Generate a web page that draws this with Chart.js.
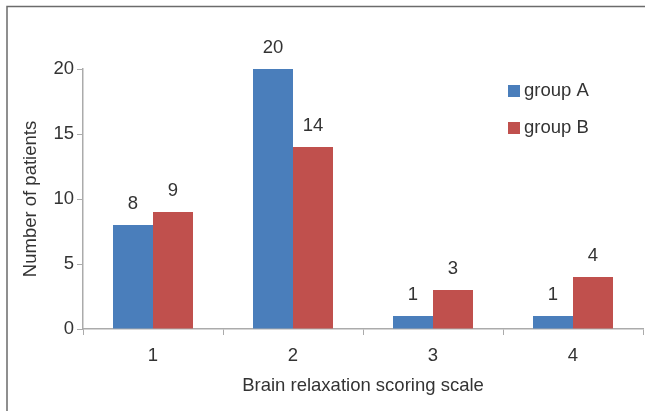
<!DOCTYPE html>
<html>
<head>
<meta charset="utf-8">
<script src="https://cdn.jsdelivr.net/npm/chart.js@4"></script>
<style>
  html, body { margin: 0; padding: 0; background: #fff; }
  #wrap { width: 645px; height: 411px; position: relative; }
</style>
</head>
<body>
<div id="wrap"><canvas id="c" width="645" height="411"></canvas></div>
<script>
const categories = ['1', '2', '3', '4'];
const seriesNames = ['group A', 'group B'];
const groupA = [8, 20, 1, 1];
const groupB = [9, 14, 3, 4];
const yTicks = [0, 5, 10, 15, 20];
const colors = ['#4a7ebb', '#c0504d'];

const FONT = "'Liberation Sans', Arial, sans-serif";
const FS = 18.5;
const TEXT = '#333333';
const AXIS = '#ababab';

const frame = {
  id: 'frame',
  beforeDraw(chart) {
    const ctx = chart.ctx;
    ctx.save();
    ctx.fillStyle = '#fff';
    ctx.fillRect(0, 0, chart.width, chart.height);
    ctx.strokeStyle = '#6b6b6b';
    ctx.lineWidth = 1.5;
    ctx.beginPath();
    ctx.moveTo(7, 420);
    ctx.lineTo(7, 6.5);
    ctx.lineTo(660, 6.5);
    ctx.stroke();
    ctx.restore();
  }
};

const valueLabels = {
  id: 'valueLabels',
  afterDatasetsDraw(chart) {
    const ctx = chart.ctx;
    ctx.save();
    ctx.font = FS + 'px ' + FONT;
    ctx.fillStyle = TEXT;
    ctx.textAlign = 'center';
    ctx.textBaseline = 'middle';
    chart.data.datasets.forEach((ds, i) => {
      chart.getDatasetMeta(i).data.forEach((bar, j) => {
        ctx.fillText(String(ds.data[j]), bar.x, bar.y - 21);
      });
    });
    ctx.restore();
  }
};

const insideLegend = {
  id: 'insideLegend',
  afterDraw(chart) {
    const ctx = chart.ctx;
    ctx.save();
    ctx.font = FS + 'px ' + FONT;
    ctx.textBaseline = 'middle';
    ctx.textAlign = 'left';
    chart.data.datasets.forEach((ds, i) => {
      const cy = 91 + i * 37;
      ctx.fillStyle = ds.backgroundColor;
      ctx.fillRect(508, cy - 6, 12, 12);
      ctx.fillStyle = TEXT;
      ctx.fillText(ds.label, 524, cy);
    });
    ctx.restore();
  }
};

new Chart(document.getElementById('c'), {
  type: 'bar',
  data: {
    labels: categories,
    datasets: [
      { label: seriesNames[0], data: groupA, backgroundColor: colors[0] },
      { label: seriesNames[1], data: groupB, backgroundColor: colors[1] }
    ]
  },
  options: {
    responsive: false,
    animation: false,
    devicePixelRatio: 1,
    layout: { padding: { top: 69, right: 2, left: 0, bottom: 0 } },
    datasets: { bar: { categoryPercentage: 80 / 140, barPercentage: 1.0 } },
    plugins: { legend: { display: false }, tooltip: { enabled: false } },
    scales: {
      x: {
        offset: true,
        grid: { offset: true, drawOnChartArea: false, drawTicks: true, tickLength: 6, color: AXIS },
        border: { color: AXIS, width: 1.5 },
        ticks: { color: TEXT, font: { family: FONT, size: FS }, padding: 10, maxRotation: 0 },
        title: { display: true, text: 'Brain relaxation scoring scale', color: TEXT, font: { family: FONT, size: FS }, padding: { top: 0, bottom: 14 } },
        afterFit(scale) { scale.height = 82; }
      },
      y: {
        min: 0, max: 20,
        afterBuildTicks(scale) { scale.ticks = yTicks.map(v => ({ value: v })); },
        grid: { drawOnChartArea: false, drawTicks: true, tickLength: 6, color: AXIS },
        border: { color: AXIS, width: 1.5 },
        ticks: { color: TEXT, font: { family: FONT, size: FS }, padding: 3 },
        title: { display: true, text: 'Number of patients', color: TEXT, font: { family: FONT, size: FS }, padding: { top: 20, bottom: 0 } },
        afterFit(scale) { scale.width = 83; }
      }
    }
  },
  plugins: [frame, valueLabels, insideLegend]
});
</script>
</body>
</html>
